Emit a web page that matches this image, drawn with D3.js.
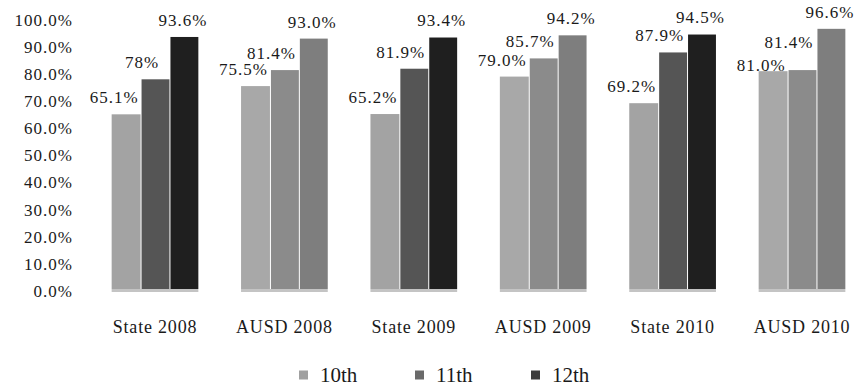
<!DOCTYPE html>
<html>
<head>
<meta charset="utf-8">
<script src="https://cdn.jsdelivr.net/npm/d3@7"></script>
<style>
  html, body { margin: 0; padding: 0; background: #fff; }
  svg { display: block; }
  text { font-family: "Liberation Serif", "DejaVu Serif", serif; fill: #1a1a1a; }
</style>
</head>
<body>
<svg id="chart" width="858" height="387"></svg>
<script>
// Graduation rates by grade, state vs. district, 2008–2010
const categories = ["State 2008", "AUSD 2008", "State 2009", "AUSD 2009", "State 2010", "AUSD 2010"];
const seriesNames = ["10th", "11th", "12th"];
const grade10 = [65.1, 75.5, 65.2, 79.0, 69.2, 81.0];
const grade11 = [78, 81.4, 81.9, 85.7, 87.9, 81.4];
const grade12 = [93.6, 93.0, 93.4, 94.2, 94.5, 96.6];
const valueLabels10 = ["65.1%", "75.5%", "65.2%", "79.0%", "69.2%", "81.0%"];
const valueLabels11 = ["78%", "81.4%", "81.9%", "85.7%", "87.9%", "81.4%"];
const valueLabels12 = ["93.6%", "93.0%", "93.4%", "94.2%", "94.5%", "96.6%"];
const yTicks = [0, 10, 20, 30, 40, 50, 60, 70, 80, 90, 100];

// Greyscale palette: state groups are darker, district groups mid-grey
const stateFill = ["#a3a3a3", "#555555", "#1f1f1f"];
const districtFill = ["#a8a8a8", "#8b8b8b", "#7e7e7e"];
const legendFill = ["#a0a0a0", "#6a6a6a", "#3c3c3c"];

const series = [grade10, grade11, grade12];
const labelSets = [valueLabels10, valueLabels11, valueLabels12];

const svg = d3.select("#chart");

const y = d3.scaleLinear().domain([0, 100]).range([291, 19.6]);
const x0 = d3.scaleBand().domain(categories).range([90.3, 866.7])
  .paddingInner(0.33).paddingOuter(0.165);
const x1 = d3.scaleBand().domain(seriesNames).range([0, x0.bandwidth()]);

// Y axis: labels only
const yAxis = svg.append("g")
  .attr("transform", "translate(76,0)")
  .call(d3.axisLeft(y).tickValues(yTicks).tickSize(0).tickPadding(3)
    .tickFormat(d => d.toFixed(1) + "%"));
yAxis.select(".domain").remove();
yAxis.selectAll("text")
  .style("font-size", "17px").style("letter-spacing", "1px")
  .style("font-family", "'Liberation Serif', serif").attr("fill", "#1a1a1a");

// X axis: category labels only
const xAxis = svg.append("g")
  .attr("transform", `translate(0,${y(0)})`)
  .call(d3.axisBottom(x0).tickSize(0).tickPadding(29));
xAxis.select(".domain").remove();
xAxis.selectAll("text")
  .style("font-size", "18px").style("letter-spacing", "0.8px")
  .style("font-family", "'Liberation Serif', serif").attr("fill", "#1a1a1a");

// Flatten into one record per bar
const bars = [];
categories.forEach((c, ci) => {
  seriesNames.forEach((s, si) => {
    bars.push({
      cat: c, ci, s, si,
      value: series[si][ci],
      label: labelSets[si][ci],
      fill: (c.startsWith("State") ? stateFill : districtFill)[si]
    });
  });
});

const groups = svg.append("g");

// light base under each group
groups.selectAll("rect.base")
  .data(categories)
  .join("rect")
  .attr("class", "base")
  .attr("x", d => x0(d))
  .attr("y", y(0) - 2)
  .attr("width", x0.bandwidth())
  .attr("height", 3)
  .attr("fill", "#c4c4c4");

groups.selectAll("rect.bar")
  .data(bars)
  .join("rect")
  .attr("class", "bar")
  .attr("x", d => x0(d.cat) + x1(d.s) + (d.si > 0 ? 1 : 0))
  .attr("y", d => y(d.value))
  .attr("width", d => x1.bandwidth() - (d.si > 0 ? 1 : 0))
  .attr("height", d => y(0) - y(d.value) - 2)
  .attr("fill", d => d.fill);

// Value labels sit above and slightly left of each bar
const labelShift = [-12, -13, -1];
const labelLift = 17;
const labelPos = bars.map(d => ({
  d,
  cx: x0(d.cat) + x1(d.s) + x1.bandwidth() / 2 + labelShift[d.si],
  cy: y(d.value) - labelLift
}));

// Spread apart neighbouring labels in a group that would sit on top of each other
categories.forEach(c => {
  const ls = labelPos.filter(p => p.d.cat === c);
  for (let i = 0; i < ls.length - 1; i++) {
    const a = ls[i], b = ls[i + 1];
    if (Math.abs(a.cy - b.cy) < 15) {
      const mid = (a.cy + b.cy) / 2;
      a.cy = mid + 11.5;
      b.cy = mid - 11.5;
    }
  }
});

svg.append("g").selectAll("text")
  .data(labelPos)
  .join("text")
  .attr("x", p => p.cx)
  .attr("y", p => p.cy)
  .attr("dy", "0.35em")
  .attr("text-anchor", "middle")
  .style("font-size", "17px")
  .style("letter-spacing", "1px")
  .text(p => p.d.label);

// Legend
const legend = svg.append("g").attr("transform", "translate(299,375)");
const item = legend.selectAll("g")
  .data(seriesNames)
  .join("g")
  .attr("transform", (d, i) => `translate(${i * 116},0)`);
item.append("rect")
  .attr("x", 0).attr("y", -4.5)
  .attr("width", 9).attr("height", 9)
  .attr("fill", (d, i) => legendFill[i]);
item.append("text")
  .attr("x", 21)
  .attr("y", 0)
  .attr("dy", "0.35em")
  .style("font-size", "21px")
  .text(d => d);
</script>
</body>
</html>
